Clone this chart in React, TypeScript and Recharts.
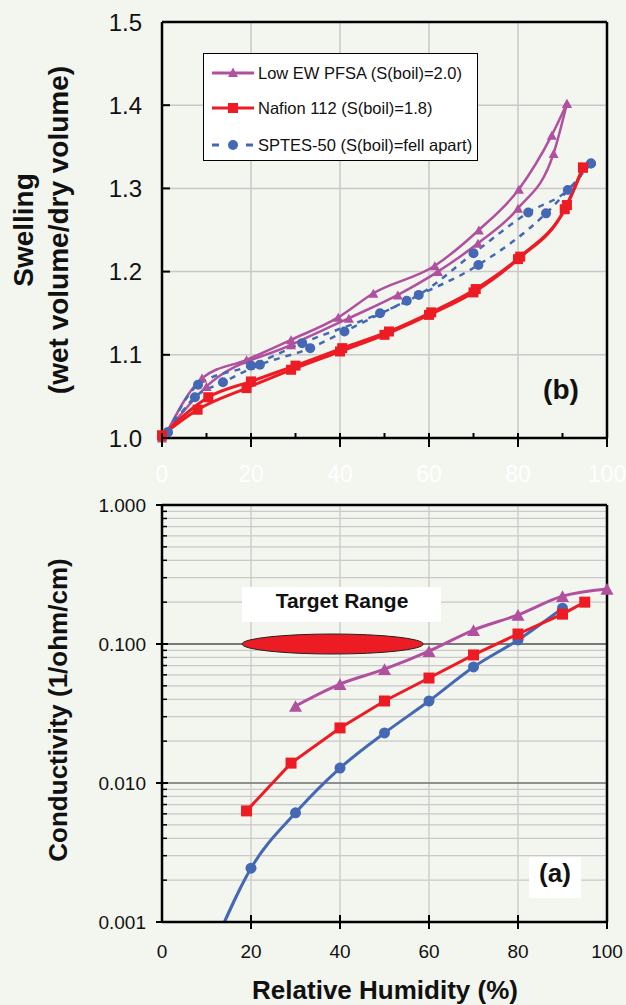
import React from "react";
import {
  LineChart,
  Line,
  XAxis,
  YAxis,
  ReferenceLine,
  ReferenceArea,
  Legend,
} from "recharts";

document.body.style.margin = "0";

const FONT = "'Liberation Sans', Arial, Helvetica, sans-serif";
const BG = "#f3f5ef";
const PURPLE = "#b0509f";
const RED = "#ed1c24";
const BLUE = "#4468b3";
const GRID = "#c9c9c9";

// ---- (b) swelling vs RH, each membrane measured up and down (hysteresis loop)
const pfsaLowRh = [0, 10, 29, 42, 53, 62, 71, 80, 88, 91];
const pfsaLowSw = [1.0, 1.062, 1.112, 1.144, 1.172, 1.2, 1.234, 1.276, 1.342, 1.402];
const pfsaHighRh = [1, 9, 19, 29, 39.6, 47.5, 61.3, 71.2, 80.2, 87.6, 91];
const pfsaHighSw = [1.006, 1.072, 1.094, 1.118, 1.145, 1.174, 1.207, 1.25, 1.299, 1.364, 1.402];

const nafLowRh = [0, 8, 19, 29, 40, 50, 60, 70, 80, 90.5, 94.6];
const nafLowSw = [1.003, 1.034, 1.06, 1.082, 1.104, 1.124, 1.148, 1.175, 1.215, 1.275, 1.325];
const nafHighRh = [0, 10.4, 20, 30, 40.5, 51, 60.5, 70.5, 80.5, 91, 94.6];
const nafHighSw = [1.003, 1.049, 1.068, 1.087, 1.108, 1.128, 1.151, 1.179, 1.218, 1.28, 1.325];

const spLowRh = [1.3, 7.4, 13.7, 22, 33.3, 41, 55, 71.1, 86.3, 96.4];
const spLowSw = [1.007, 1.049, 1.067, 1.088, 1.108, 1.128, 1.165, 1.208, 1.27, 1.33];
const spHighRh = [1.3, 8.1, 20, 31.5, 49, 57.7, 70, 82.3, 91.2, 96.4];
const spHighSw = [1.007, 1.064, 1.087, 1.114, 1.15, 1.172, 1.222, 1.271, 1.298, 1.33];

// ---- (a) conductivity vs RH
const rhPfsa = [30, 40, 50, 60, 70, 80, 90, 100];
const condPfsa = [0.0358, 0.0515, 0.066, 0.089, 0.126, 0.162, 0.221, 0.249];
const rhNafion = [19, 29, 40, 50, 60, 70, 80, 90, 95];
const condNafion = [0.0063, 0.0139, 0.0249, 0.0389, 0.0569, 0.0834, 0.118, 0.164, 0.2];
const rhSptes = [10, 20, 30, 40, 50, 60, 70, 80, 90];
const condSptes = [0.0005, 0.00244, 0.0061, 0.0128, 0.0229, 0.0389, 0.0684, 0.107, 0.181];

const targetRh = [18, 58.7];
const targetCond = [0.0847, 0.118];
const targetLine = 0.1;

const legendNames = [
  "Low EW PFSA (S(boil)=2.0)",
  "Nafion 112 (S(boil)=1.8)",
  "SPTES-50 (S(boil)=fell apart)",
];

const swTicks = [1.0, 1.1, 1.2, 1.3, 1.4, 1.5];
const rhTicksTop = [0, 10, 20, 30, 40, 50, 60, 70, 80, 90, 100];
const rhTicks = [0, 20, 40, 60, 80, 100];
const gridRh = [20, 40, 60, 80];
const gridSw = [1.1, 1.2, 1.3, 1.4];
const condMajor = [0.001, 0.01, 0.1, 1];
const condMinor = [0.001, 0.01, 0.1].flatMap((d) =>
  [2, 3, 4, 5, 6, 7, 8, 9].map((m) => +(d * m).toPrecision(2))
);

const zip = (xs: number[], ys: number[]) => xs.map((x, i) => ({ x, y: ys[i] }));

const tri = (color: string, s: number) => (p: any) => {
  const { cx, cy, index } = p;
  if (cx == null || cy == null) return <g key={`t${index}`} />;
  const h = s * 0.9;
  return (
    <path
      key={`t${index}`}
      d={`M${cx},${cy - h / 2}L${cx + s / 2},${cy + h / 2}L${cx - s / 2},${cy + h / 2}Z`}
      fill={color}
    />
  );
};

const sq = (color: string, s: number) => (p: any) => {
  const { cx, cy, index } = p;
  if (cx == null || cy == null) return <g key={`s${index}`} />;
  return <rect key={`s${index}`} x={cx - s / 2} y={cy - s / 2} width={s} height={s} fill={color} />;
};

const circ = (color: string, r: number) => (p: any) => {
  const { cx, cy, index } = p;
  if (cx == null || cy == null) return <g key={`c${index}`} />;
  return <circle key={`c${index}`} cx={cx} cy={cy} r={r} fill={color} />;
};

const TopXTick = (props: any) => {
  const { x, y, payload } = props;
  const v = payload.value;
  const major = v % 20 === 0;
  return (
    <g>
      <line x1={x} x2={x} y1={y - 5} y2={major ? y + 9 : y} stroke="#000" strokeWidth={2} />
      {major && (
        <text x={x} y={y + 44} textAnchor="middle" fontSize={23} fill="#fff" fontFamily={FONT}>
          {v}
        </text>
      )}
    </g>
  );
};

const TopYTick = (props: any) => {
  const { x, y, payload } = props;
  return (
    <g>
      <line x1={x} x2={x + 8} y1={y} y2={y} stroke="#000" strokeWidth={2} />
      <text x={x - 20} y={y} dy="0.36em" textAnchor="end" fontSize={24} fill="#111" fontFamily={FONT}>
        {Number(payload.value).toFixed(1)}
      </text>
    </g>
  );
};

const BotXTick = (props: any) => {
  const { x, y, payload } = props;
  return (
    <g>
      {payload.value > 0 && (
        <line x1={x} x2={x} y1={y - 7} y2={y + 7} stroke="#000" strokeWidth={2} />
      )}
      <text x={x} y={y + 36} textAnchor="middle" fontSize={19} fill="#111" fontFamily={FONT}>
        {payload.value}
      </text>
    </g>
  );
};

const BotYTick = (props: any) => {
  const { x, y, payload } = props;
  const v = payload.value;
  const major = condMajor.some((m) => Math.abs(m - v) < m * 1e-6);
  if (!major) {
    return <line x1={x} x2={x + 5} y1={y} y2={y} stroke="#000" strokeWidth={1.5} />;
  }
  return (
    <g>
      <line x1={x - 6} x2={x + 6} y1={y} y2={y} stroke="#000" strokeWidth={2} />
      <text x={x - 16} y={y} dy="0.36em" textAnchor="end" fontSize={19} fill="#111" fontFamily={FONT}>
        {v.toFixed(3)}
      </text>
    </g>
  );
};

const LegendBox = () => {
  const rows = [19, 54, 91];
  return (
    <div
      style={{
        position: "relative",
        width: 275,
        height: 108,
        background: "#fff",
        border: "1.5px solid #000",
        boxSizing: "border-box",
        fontFamily: FONT,
        fontSize: 16.5,
        color: "#111",
      }}
    >
      {legendNames.map((name, i) => (
        <div
          key={name}
          style={{ position: "absolute", left: 7, top: rows[i] - 11, height: 22, display: "flex", alignItems: "center", whiteSpace: "nowrap" }}
        >
          <svg width={45} height={22} style={{ marginRight: 2 }}>
            {i === 0 && (
              <>
                <line x1={1} x2={43} y1={11} y2={11} stroke={PURPLE} strokeWidth={3} />
                <path d="M22,5.5L27,15L17,15Z" fill={PURPLE} />
              </>
            )}
            {i === 1 && (
              <>
                <line x1={1} x2={43} y1={11} y2={11} stroke={RED} strokeWidth={3} />
                <rect x={17} y={6} width={10} height={10} fill={RED} />
              </>
            )}
            {i === 2 && (
              <>
                <line x1={1} x2={43} y1={11} y2={11} stroke={BLUE} strokeWidth={3} strokeDasharray="7 10" />
                <circle cx={22} cy={11} r={5} fill={BLUE} />
              </>
            )}
          </svg>
          <span>{name}</span>
        </div>
      ))}
    </div>
  );
};

export default function App() {
  const topSeries = [
    { key: "pl", data: zip(pfsaLowRh, pfsaLowSw), stroke: PURPLE, w: 2.5, dash: undefined, dot: tri(PURPLE, 10) },
    { key: "ph", data: zip(pfsaHighRh, pfsaHighSw), stroke: PURPLE, w: 2.5, dash: undefined, dot: tri(PURPLE, 10) },
    { key: "sl", data: zip(spLowRh, spLowSw), stroke: BLUE, w: 2.5, dash: "6 6", dot: circ(BLUE, 5) },
    { key: "sh", data: zip(spHighRh, spHighSw), stroke: BLUE, w: 2.5, dash: "6 6", dot: circ(BLUE, 5) },
    { key: "nl", data: zip(nafLowRh, nafLowSw), stroke: RED, w: 3, dash: undefined, dot: sq(RED, 10) },
    { key: "nh", data: zip(nafHighRh, nafHighSw), stroke: RED, w: 3, dash: undefined, dot: sq(RED, 10) },
  ];

  const ellipseShape = (p: any) => (
    <ellipse
      cx={p.x + p.width / 2}
      cy={p.y + p.height / 2}
      rx={p.width / 2}
      ry={p.height / 2}
      fill={RED}
      stroke="#222"
      strokeWidth={1}
    />
  );

  return (
    <div style={{ position: "relative", width: 626, height: 1005, background: BG, overflow: "hidden" }}>
      {/* (b) swelling */}
      <div style={{ position: "absolute", left: 0, top: 0 }}>
        <LineChart width={626} height={490} margin={{ top: 22, right: 19, bottom: 0, left: 0 }}>
          <XAxis
            dataKey="x"
            type="number"
            domain={[0, 100]}
            ticks={rhTicksTop}
            interval={0}
            tickSize={0}
            tickMargin={0}
            tick={<TopXTick />}
            height={52}
            axisLine={{ stroke: "#000", strokeWidth: 2.5 }}
            allowDuplicatedCategory={false}
          />
          <YAxis
            type="number"
            domain={[1, 1.5]}
            ticks={swTicks}
            interval={0}
            tickSize={0}
            tickMargin={0}
            tick={<TopYTick />}
            width={162}
            axisLine={{ stroke: "#000", strokeWidth: 2.5 }}
          />
          {gridRh.map((v) => (
            <ReferenceLine key={`gx${v}`} x={v} stroke={GRID} strokeWidth={1.5} />
          ))}
          {gridSw.map((v) => (
            <ReferenceLine key={`gy${v}`} y={v} stroke={GRID} strokeWidth={1.5} />
          ))}
          <ReferenceLine y={1.5} stroke="#000" strokeWidth={2.5} />
          <ReferenceLine x={100} stroke="#000" strokeWidth={2.5} />
          {topSeries.map((s) => (
            <Line
              key={s.key}
              data={s.data}
              dataKey="y"
              type="monotone"
              stroke={s.stroke}
              strokeWidth={s.w}
              strokeDasharray={s.dash}
              dot={s.dot}
              activeDot={false}
              legendType="none"
              isAnimationActive={false}
            />
          ))}
          <Legend
            layout="horizontal"
            verticalAlign="middle"
            align="center"
            wrapperStyle={{ left: 203, top: 53, width: 275, height: 108 }}
            content={() => <LegendBox />}
          />
        </LineChart>
      </div>

      {/* (a) conductivity */}
      <div style={{ position: "absolute", left: 0, top: 490 }}>
        <LineChart width={626} height={515} margin={{ top: 15, right: 19, bottom: 0, left: 0 }}>
          <XAxis
            dataKey="x"
            type="number"
            domain={[0, 100]}
            ticks={rhTicks}
            interval={0}
            tickSize={0}
            tickMargin={0}
            tick={<BotXTick />}
            height={83}
            axisLine={{ stroke: "#000", strokeWidth: 2.5 }}
            allowDuplicatedCategory={false}
          />
          <YAxis
            type="number"
            scale="log"
            domain={[0.001, 1]}
            allowDataOverflow
            ticks={[...condMajor, ...condMinor].sort((a, b) => a - b)}
            interval={0}
            tickSize={0}
            tickMargin={0}
            tick={<BotYTick />}
            width={162}
            axisLine={{ stroke: "#000", strokeWidth: 2.5 }}
          />
          {condMinor.map((v) => (
            <ReferenceLine key={`gm${v}`} y={v} stroke={GRID} strokeWidth={1.3} />
          ))}
          {gridRh.map((v) => (
            <ReferenceLine key={`gx${v}`} x={v} stroke={GRID} strokeWidth={1.3} />
          ))}
          <ReferenceLine y={0.01} stroke="#6f6f6f" strokeWidth={1.5} />
          <ReferenceLine
            segment={[{ x: 0, y: targetLine }, { x: targetRh[0], y: targetLine }]}
            stroke="#000"
            strokeWidth={1.2}
          />
          <ReferenceLine
            segment={[{ x: targetRh[1], y: targetLine }, { x: 100, y: targetLine }]}
            stroke="#000"
            strokeWidth={1.2}
          />
          <ReferenceLine y={1} stroke="#000" strokeWidth={2.5} />
          <ReferenceLine x={100} stroke="#000" strokeWidth={2.5} />
          <ReferenceArea
            x1={targetRh[0]}
            x2={targetRh[1]}
            y1={targetCond[0]}
            y2={targetCond[1]}
            zIndex={450}
            shape={ellipseShape}
          />
          <Line
            data={zip(rhSptes, condSptes)}
            dataKey="y"
            type="monotone"
            stroke={BLUE}
            strokeWidth={3}
            dot={circ(BLUE, 5.5)}
            activeDot={false}
            isAnimationActive={false}
          />
          <Line
            data={zip(rhNafion, condNafion)}
            dataKey="y"
            type="linear"
            stroke={RED}
            strokeWidth={3}
            dot={sq(RED, 11)}
            activeDot={false}
            isAnimationActive={false}
          />
          <Line
            data={zip(rhPfsa, condPfsa)}
            dataKey="y"
            type="monotone"
            stroke={PURPLE}
            strokeWidth={3}
            dot={tri(PURPLE, 13)}
            activeDot={false}
            isAnimationActive={false}
          />
        </LineChart>
      </div>

      {/* titles and annotations */}
      <svg
        width={626}
        height={1005}
        style={{ position: "absolute", left: 0, top: 0, pointerEvents: "none" }}
        fontFamily={FONT}
        fontWeight="bold"
        fill="#111"
      >
        <text transform="translate(33,230) rotate(-90)" textAnchor="middle" fontSize={28}>
          Swelling
        </text>
        <text transform="translate(68,230) rotate(-90)" textAnchor="middle" fontSize={28}>
          (wet volume/dry volume)
        </text>
        <text x={561} y={399} textAnchor="middle" fontSize={28}>
          (b)
        </text>
        <text transform="translate(67,710) rotate(-90)" textAnchor="middle" fontSize={26}>
          Conductivity (1/ohm/cm)
        </text>
        <text x={385} y={999} textAnchor="middle" fontSize={26}>
          Relative Humidity (%)
        </text>
        <rect x={242} y={587} width={199} height={35} fill="#fff" />
        <text x={342} y={608} textAnchor="middle" fontSize={21}>
          Target Range
        </text>
        <rect x={529} y={857} width={52} height={41} fill="#fff" />
        <text x={555} y={882} textAnchor="middle" fontSize={26}>
          (a)
        </text>
      </svg>
    </div>
  );
}
